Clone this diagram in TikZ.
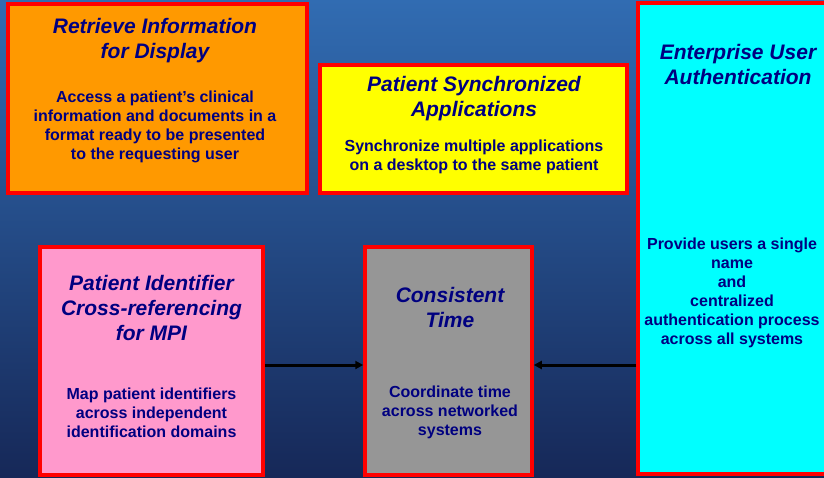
\documentclass[tikz,border=0pt]{standalone}
\usepackage{fontspec}
\setmainfont{Liberation Sans}
\usepackage{tikz}
\usetikzlibrary{arrows.meta}

\definecolor{bgtop}{RGB}{49,108,178}
\definecolor{bgbottom}{RGB}{22,40,88}
\definecolor{ink}{RGB}{0,0,128}
\definecolor{boxorange}{RGB}{255,153,0}
\definecolor{boxyellow}{RGB}{255,255,0}
\definecolor{boxcyan}{RGB}{0,255,255}
\definecolor{boxpink}{RGB}{255,153,204}
\definecolor{boxgray}{RGB}{150,150,150}

\begin{document}
\begin{tikzpicture}[x=1pt, y=-1pt,
      block/.style={draw=red, line width=3.5pt, inner sep=0pt},
      head/.style={text=ink, align=center, font=\fontsize{21}{25}\selectfont\bfseries\itshape},
      body/.style={text=ink, align=center, font=\fontsize{16}{19}\selectfont\bfseries},
      link/.style={line width=3pt, -{Triangle[length=8pt,width=8pt]}}]
      % background
      \shade[top color=bgtop, bottom color=bgbottom] (0,0) rectangle (824,477);
      \useasboundingbox (0,0) rectangle (824,477);
      % boxes
      \node[block, fill=boxorange, minimum width=299pt, minimum height=189pt] (retrieve) at (157.5,98.5) {};
      \node[block, fill=boxyellow, minimum width=307pt, minimum height=128pt] (sync) at (473.5,129) {};
      \node[block, fill=boxcyan, minimum width=202pt, minimum height=471pt] (auth) at (739,238.5) {};
      \node[block, fill=boxpink, minimum width=223pt, minimum height=228pt] (pix) at (151.5,361) {};
      \node[block, fill=boxgray, minimum width=167pt, minimum height=228pt] (time) at (448.5,361) {};
      % texts
      \node[head] (retrieve-t) at (155,40.5) {Retrieve Information\\for Display};
      \node[body] (retrieve-b) at (155,126.5) {Access a patient’s clinical\\information and documents in a\\format ready to be presented\\to the requesting user};
      \node[head] (sync-t) at (474,99) {Patient Synchronized\\Applications};
      \node[body] (sync-b) at (474,156.5) {Synchronize multiple applications\\on a desktop to the same patient};
      \node[head] (auth-t) at (738,64.5) {Enterprise User\\Authentication};
      \node[body] (auth-b) at (732,293) {Provide users a single\\name\\and\\centralized\\authentication process\\across all systems};
      \node[head] (pix-t) at (151.5,308) {Patient Identifier\\Cross-referencing\\for MPI};
      \node[body] (pix-b) at (151.5,413) {Map patient identifiers\\across independent\\identification domains};
      \node[head] (time-t) at (450,307.5) {Consistent\\Time};
      \node[body] (time-b) at (450,412) {Coordinate time\\across networked\\systems};
      % connectors
      \draw[link] (pix.east |- 0,365) -- (time.west |- 0,365);
      \draw[link] (auth.west |- 0,365) -- (time.east |- 0,365);
\end{tikzpicture}
\end{document}
